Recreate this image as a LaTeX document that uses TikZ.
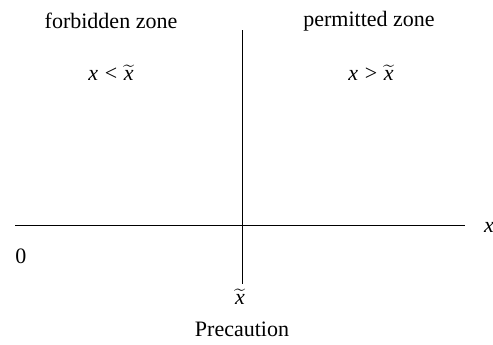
\documentclass[tikz,border=0pt]{standalone}
\usepackage{fontspec}
\setmainfont{Liberation Serif}
\newcommand{\xt}{$\widetilde{\mbox{\textit{x}}}$}
\newcommand{\rsp}{\hspace{0.3em}}
\begin{document}
\begin{tikzpicture}[x=0.5pt,y=-0.5pt,
  lbl/.style={font=\fontsize{11}{13}\selectfont, inner sep=0pt},
  axis/.style={line width=0.5pt, black}]
\useasboundingbox (0,0) rectangle (493,344);
\coordinate (hl) at (15,225);
\coordinate (hr) at (465,225);
\coordinate (vt) at (242,30);
\coordinate (vb) at (242,284);
\draw[axis] (hl) -- (hr);
\draw[axis] (vt) -- (vb);
\node[lbl] (xl) at (489,227) {\textit{x}};
\node[lbl] (zero) at (21,256) {0};
\node[lbl] (fz) at (111,21) {forbidden zone};
\node[lbl] (pz) at (369,21) {permitted zone};
\node[lbl] (lt) at (111,73) {\textit{x}\rsp<\rsp\xt};
\node[lbl] (gt) at (371,73) {\textit{x}\rsp>\rsp\xt};
\node[lbl] (xtl) at (240,297) {\xt};
\node[lbl] (pc) at (242,329) {Precaution};
\end{tikzpicture}
\end{document}
